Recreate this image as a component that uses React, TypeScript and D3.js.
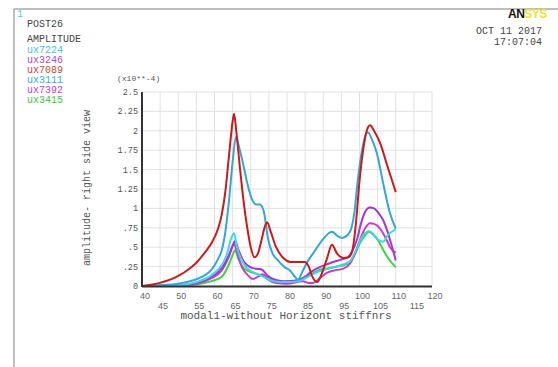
import * as d3 from 'd3'

const legendLabels = ['ux7224', 'ux3246', 'ux7089', 'ux3111', 'ux7392', 'ux3415']
const legendColors = ['#3fc9da', '#b04cc4', '#c24a3c', '#3aaed6', '#c640bc', '#44c244']

const xMajorTicks = [40, 50, 60, 70, 80, 90, 100, 110, 120]
const xMinorTicks = [45, 55, 65, 75, 85, 95, 105, 115]
const yTicks = [0, 0.25, 0.5, 0.75, 1, 1.25, 1.5, 1.75, 2, 2.25, 2.5]
const yTickLabels = ['0', '.25', '.5', '.75', '1', '1.25', '1.5', '1.75', '2', '2.25', '2.5']

// [frequency, amplitude x1e-4]
const ux7224: [number, number][] = [
  [40, 0], [50, 0.01], [55, 0.05], [59.2, 0.14], [62, 0.27], [63.5, 0.42], [64.5, 0.6], [65.4, 0.68],
  [66.2, 0.5], [67.9, 0.3], [69, 0.23], [70.6, 0.18], [72, 0.15], [73.4, 0.12], [75, 0.08], [78, 0.05],
  [81, 0.05], [83, 0.06], [85, 0.1], [87, 0.15], [89, 0.19], [92, 0.23], [95, 0.27], [97.4, 0.32],
  [98.8, 0.44], [100.1, 0.58], [101.5, 0.68], [102.6, 0.71], [103.8, 0.67], [105.1, 0.6], [106.5, 0.57],
  [107.9, 0.66], [110, 0.73],
]
const ux3246: [number, number][] = [
  [40, 0], [50, 0.01], [55, 0.04], [59.2, 0.12], [62, 0.23], [64, 0.4], [65, 0.52], [65.7, 0.58],
  [66.5, 0.48], [67.9, 0.33], [69, 0.27], [70.6, 0.23], [72, 0.22], [73.1, 0.21], [74.5, 0.14],
  [76.7, 0.08], [79, 0.06], [82.8, 0.07], [85, 0.12], [86.3, 0.17], [88, 0.22], [89.9, 0.26],
  [92.7, 0.31], [95, 0.34], [96.8, 0.37], [98, 0.45], [99.3, 0.6], [100.5, 0.82], [101.5, 0.95],
  [102.9, 1.01], [104, 1.0], [105.1, 0.95], [106.5, 0.85], [107.6, 0.72], [108.4, 0.6], [110, 0.33],
]
const ux7089: [number, number][] = [
  [40, 0], [45, 0.04], [50, 0.13], [53, 0.22], [55, 0.3], [57, 0.41], [59, 0.54], [61, 0.74], [62, 0.92],
  [63, 1.22], [64, 1.68], [65, 2.12], [65.4, 2.22], [66, 2.0], [67, 1.53], [68, 1.1], [69, 0.76], [70, 0.5],
  [71, 0.37], [72, 0.42], [73, 0.6], [74, 0.78], [74.5, 0.82], [75.5, 0.7], [77, 0.5], [79, 0.36],
  [81, 0.31], [83, 0.31], [85, 0.31], [86, 0.25], [87, 0.12], [88.3, 0.05], [89.5, 0.15], [91, 0.35],
  [92.4, 0.53], [93.8, 0.42], [95.5, 0.36], [97, 0.37], [98, 0.45], [99, 0.8], [100, 1.35], [101, 1.75],
  [102, 2.0], [102.9, 2.07], [104, 2.0], [105.7, 1.84], [107.6, 1.56], [110, 1.21],
]
const ux3111: [number, number][] = [
  [40, 0], [45, 0.01], [50, 0.03], [54.6, 0.08], [57, 0.13], [59.2, 0.21], [61, 0.35], [62, 0.46],
  [63, 0.7], [64, 1.1], [65, 1.6], [65.9, 1.92], [67, 1.75], [68, 1.55], [69, 1.33], [70.5, 1.1],
  [71.5, 1.05], [72.5, 1.05], [73.5, 0.98], [74.8, 0.6], [76, 0.42], [77.5, 0.33], [79.4, 0.24],
  [80.8, 0.2], [82.2, 0.12], [83, 0.08], [84.4, 0.2], [85.5, 0.3], [87.2, 0.42], [89.9, 0.6],
  [91.5, 0.68], [92.4, 0.7], [93.8, 0.65], [95.2, 0.62], [96.8, 0.66], [97.8, 0.75], [98.6, 0.95],
  [99.5, 1.35], [100.7, 1.75], [101.5, 1.92], [102.3, 1.98], [103.5, 1.88], [104.8, 1.71],
  [106.5, 1.33], [108.4, 0.94], [110, 0.74],
]
const ux7392: [number, number][] = [
  [40, 0], [50, 0.01], [55, 0.03], [59.2, 0.1], [62, 0.2], [64, 0.38], [65.4, 0.54], [66.3, 0.42],
  [67.5, 0.25], [69, 0.15], [70.6, 0.09], [72, 0.12], [73.3, 0.15], [74.8, 0.08], [77, 0.04], [80, 0.03],
  [84.4, 0.06], [86, 0.04], [87.2, 0.04], [89, 0.1], [91, 0.17], [93, 0.2], [95.4, 0.22], [97.4, 0.29],
  [98.8, 0.42], [100.1, 0.59], [101.5, 0.74], [102.9, 0.81], [104, 0.8], [105.1, 0.77], [106.5, 0.68],
  [107.6, 0.58], [108.4, 0.5], [110, 0.43],
]
const ux3415: [number, number][] = [
  [40, 0], [50, 0.005], [55, 0.02], [59, 0.06], [62, 0.12], [64, 0.28], [65, 0.4], [65.7, 0.46],
  [66.5, 0.36], [67.9, 0.24], [69, 0.2], [70.6, 0.17], [72, 0.15], [73.4, 0.14], [75.3, 0.1], [78, 0.06],
  [80.8, 0.05], [82.5, 0.07], [84.4, 0.1], [86.5, 0.15], [89.1, 0.21], [91.5, 0.23], [93.8, 0.25],
  [95.8, 0.27], [97.4, 0.31], [98.8, 0.42], [100.1, 0.55], [101.5, 0.65], [102.6, 0.7], [103.8, 0.66],
  [105.1, 0.59], [106.5, 0.47], [107.6, 0.38], [110, 0.24],
]

// drawing order: lighter/lower curves first, red on top
const series = [
  { data: ux3415, color: '#3fd43f' },
  { data: ux7392, color: '#cc3cc4' },
  { data: ux3246, color: '#a238d2' },
  { data: ux7224, color: '#3ed6ea' },
  { data: ux3111, color: '#33a6dc' },
  { data: ux7089, color: '#cc1a1a' },
]

const mono = '"Liberation Mono", "DejaVu Sans Mono", monospace'
const sans = '"Liberation Sans", Arial, sans-serif'

export default function App() {
  const x = d3.scaleLinear().domain([40, 120]).range([142, 432])
  const y = d3.scaleLinear().domain([0, 2.5]).range([286, 92])

  const line = d3.line<[number, number]>()
    .x(d => x(d[0]))
    .y(d => y(d[1]))
    .curve(d3.curveMonotoneX)

  const gridX = d3.range(40, 121, 5)

  return (
    <svg width={558} height={367} style={{ position: 'fixed', left: 0, top: 0, background: '#fff' }}>
      <rect width={558} height={367} fill="#fff" />
      {/* outer frame */}
      <line x1={14} x2={558} y1={9} y2={9} stroke="#a8a8a8" strokeWidth={1.5} />
      <line x1={14} x2={14} y1={9} y2={367} stroke="#a8a8a8" strokeWidth={1.5} />
      <text x={17} y={17} fontSize={10} fill="#4fd0e0" fontFamily={mono}>1</text>

      <text x={27} y={27} fontSize={10} fill="#444" fontFamily={mono}>POST26</text>
      <text x={27} y={42} fontSize={10} fill="#444" fontFamily={mono}>AMPLITUDE</text>
      {legendLabels.map((l, i) => (
        <text key={l} x={27} y={53 + i * 10} fontSize={10} fill={legendColors[i]} fontFamily={mono}>{l}</text>
      ))}

      {/* logo + date */}
      <text x={508} y={18} fontSize={12} fontWeight={900} fontFamily={sans} letterSpacing={-0.5}>
        <tspan fill="#111">AN</tspan><tspan fill="#f2e02a">SYS</tspan>
      </text>
      <text x={542} y={34} fontSize={10} fill="#444" fontFamily={mono} textAnchor="end">OCT 11 2017</text>
      <text x={542} y={45} fontSize={10} fill="#444" fontFamily={mono} textAnchor="end">17:07:04</text>

      {/* grid */}
      {gridX.map(v => (
        <line key={'gx' + v} x1={x(v)} x2={x(v)} y1={y(2.5)} y2={y(0)} stroke="#e2e2e2" strokeWidth={1} />
      ))}
      {yTicks.map(v => (
        <line key={'gy' + v} x1={x(40)} x2={x(120)} y1={y(v)} y2={y(v)} stroke="#e2e2e2" strokeWidth={1} />
      ))}

      {/* curves */}
      {series.map((s, i) => (
        <path key={i} d={line(s.data) || ''} fill="none" stroke={s.color} strokeWidth={2} strokeLinejoin="round" />
      ))}

      {/* axes */}
      <line x1={x(40)} x2={x(40)} y1={y(2.5)} y2={y(0) + 1} stroke="#333" strokeWidth={2} />
      <line x1={x(40)} x2={x(120)} y1={y(0) + 0.5} y2={y(0) + 0.5} stroke="#333" strokeWidth={2} />

      {yTicks.map((v, i) => (
        <text key={'yt' + v} x={138} y={y(v) + 3} fontSize={8.5} fill="#555" fontFamily={mono} textAnchor="end">
          {yTickLabels[i]}
        </text>
      ))}
      <text x={117} y={81} fontSize={8} fill="#555" fontFamily={mono}>(x10**-4)</text>

      {xMajorTicks.map(v => (
        <text key={'xt' + v} x={x(v) + 3} y={299} fontSize={9} fill="#666" fontFamily={sans} textAnchor="middle">{v}</text>
      ))}
      {xMinorTicks.map(v => (
        <text key={'xm' + v} x={x(v) + 3} y={309} fontSize={9} fill="#666" fontFamily={sans} textAnchor="middle">{v}</text>
      ))}

      <text x={286} y={319} fontSize={11} fill="#555" fontFamily={mono} textAnchor="middle">
        modal1-without Horizont stiffnrs
      </text>
      <text transform={`translate(90, ${188}) rotate(-90)`} fontSize={10} fill="#555" fontFamily={mono} textAnchor="middle">
        amplitude- right side view
      </text>
    </svg>
  )
}
